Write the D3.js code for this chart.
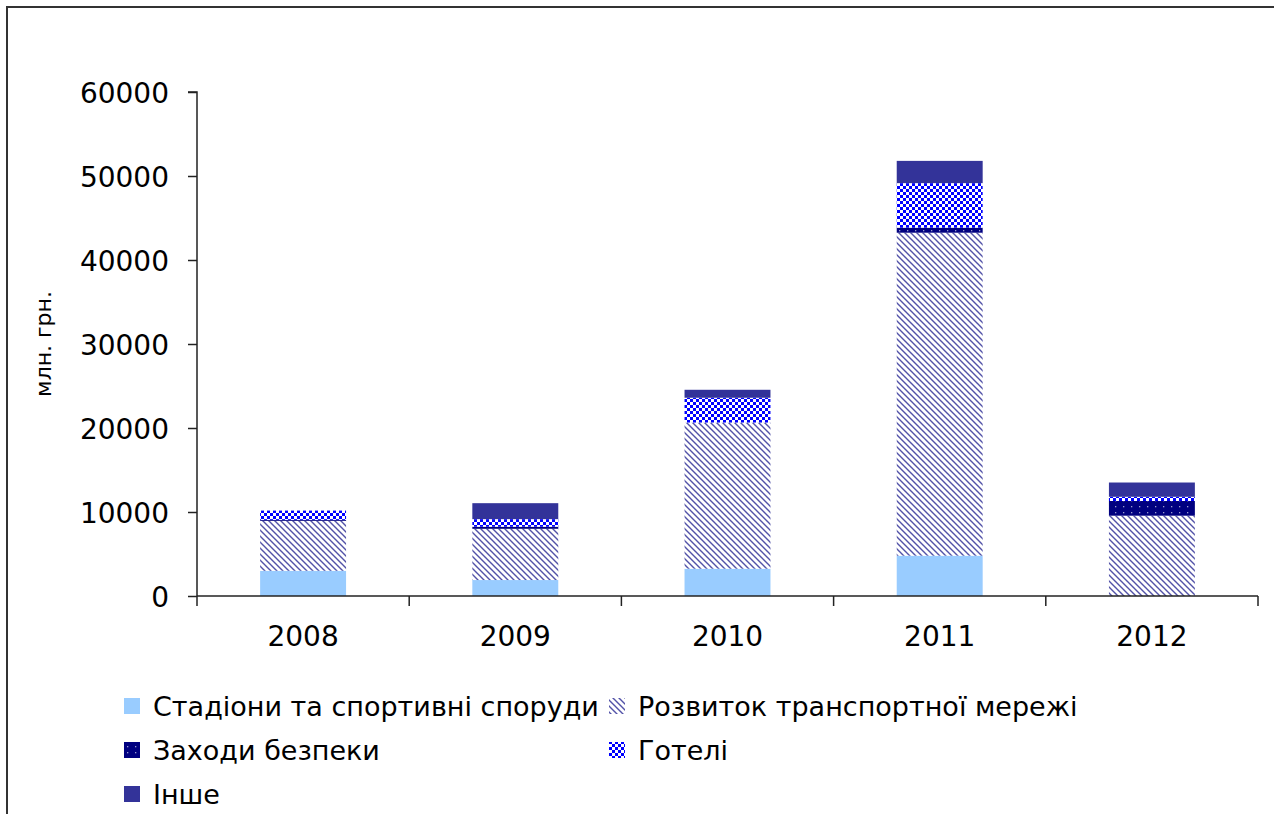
<!DOCTYPE html>
<html>
<head>
<meta charset="utf-8">
<script src="https://cdn.jsdelivr.net/npm/d3@7"></script>
<style>
  body { margin: 0; background: #fff; }
  text { font-family: "DejaVu Sans", Verdana, sans-serif; fill: #000; }
</style>
</head>
<body>
<div id="chart"></div>
<script>
// values in млн. грн.
const years = ["2008", "2009", "2010", "2011", "2012"];
const stadiums = [3000, 1900, 3250, 4800, 0];
const transport = [5950, 6100, 17400, 38450, 9560];
const security = [120, 250, 0, 600, 1750];
const hotels = [1100, 900, 2950, 5300, 500];
const other = [0, 1900, 950, 2650, 1700];
const yTicks = [0, 10000, 20000, 30000, 40000, 50000, 60000];

const seriesNames = ["Стадіони та спортивні споруди", "Розвиток транспортної мережі",
  "Заходи безпеки", "Готелі", "Інше"];
const seriesKeys = ["stadiums", "transport", "security", "hotels", "other"];
const fills = ["#99ccff", "url(#pTransport)", "url(#pSecurity)", "url(#pHotels)", "#333399"];

const W = 1274, H = 814;
const plot = {left: 197, right: 1258, top: 92, bottom: 596};

const rows = years.map((y, i) => ({
  year: y, stadiums: stadiums[i], transport: transport[i],
  security: security[i], hotels: hotels[i], other: other[i]
}));

const svg = d3.select("#chart").append("svg")
  .attr("width", W).attr("height", H);

// patterns
const defs = svg.append("defs");
const pT = defs.append("pattern").attr("id", "pTransport")
  .attr("patternUnits", "userSpaceOnUse").attr("width", 6).attr("height", 6);
pT.append("rect").attr("width", 6).attr("height", 6).attr("fill", "#fff");
pT.append("path").attr("d", "M-1,-1 L7,7 M-1,5 L1,7 M5,-1 L7,1")
  .attr("stroke", "#5252a8").attr("stroke-width", 1.4);

const pS = defs.append("pattern").attr("id", "pSecurity")
  .attr("patternUnits", "userSpaceOnUse").attr("width", 8).attr("height", 6);
pS.append("rect").attr("width", 8).attr("height", 6).attr("fill", "#000080");
pS.append("rect").attr("x", 3).attr("y", 2).attr("width", 1.3).attr("height", 1.3).attr("fill", "#9a9ad0");

const pH = defs.append("pattern").attr("id", "pHotels")
  .attr("patternUnits", "userSpaceOnUse").attr("width", 6).attr("height", 6);
pH.append("rect").attr("width", 6).attr("height", 6).attr("fill", "#0000ff");
pH.append("rect").attr("width", 3).attr("height", 3).attr("fill", "#ffffff");
pH.append("rect").attr("x", 3).attr("y", 3).attr("width", 3).attr("height", 3).attr("fill", "#ffffff");

// frame
svg.append("path").attr("d", "M7,830 V7 H1290")
  .attr("fill", "none").attr("stroke", "#333").attr("stroke-width", 2);

const x = d3.scaleBand().domain(years).range([plot.left, plot.right]).padding(0);
const y = d3.scaleLinear().domain([0, 60000]).range([plot.bottom, plot.top]);
const barW = x.bandwidth() * 0.405;

const stacked = d3.stack().keys(seriesKeys)(rows);

svg.selectAll(".layer")
  .data(stacked)
  .enter().append("g")
  .attr("class", "layer")
  .attr("fill", (d, i) => fills[i])
  .selectAll("rect")
  .data(d => d)
  .enter().append("rect")
  .attr("x", d => x(d.data.year) + (x.bandwidth() - barW) / 2)
  .attr("width", barW)
  .attr("y", d => y(d[1]))
  .attr("height", d => y(d[0]) - y(d[1]));

// y axis
const yAxis = svg.append("g")
  .attr("transform", "translate(" + plot.left + ",0)")
  .call(d3.axisLeft(y).tickValues(yTicks).tickSize(9).tickPadding(19).tickFormat(d3.format("d")));
yAxis.selectAll("text").style("font-size", "28px").attr("dy", "0.36em");
yAxis.selectAll("line, path").attr("stroke", "#222").attr("stroke-width", 1.5);
yAxis.select(".domain").attr("d", "M-9," + plot.top + "H0V" + plot.bottom);

// x axis
const xAxis = svg.append("g")
  .attr("transform", "translate(0," + plot.bottom + ")")
  .call(d3.axisBottom(x).tickSize(0).tickPadding(30));
xAxis.selectAll("text").style("font-size", "28px");
xAxis.select(".domain").attr("d", "M" + plot.left + ",0H" + plot.right)
  .attr("stroke", "#222").attr("stroke-width", 1.5);
const bounds = years.map(d => x(d)).concat([plot.right]);
xAxis.selectAll(".bound")
  .data(bounds)
  .enter().append("line")
  .attr("x1", d => d).attr("x2", d => d)
  .attr("y1", 0).attr("y2", 10)
  .attr("stroke", "#222").attr("stroke-width", 1.5);

// y axis label
svg.append("text")
  .attr("transform", "translate(51," + ((plot.top + plot.bottom) / 2) + ") rotate(-90)")
  .style("text-anchor", "middle")
  .style("font-size", "22px")
  .text("млн. грн.");

// legend
const legendPos = [[124, 706], [609, 706], [124, 750], [609, 750], [124, 794]];
const legend = svg.selectAll(".legend")
  .data(seriesNames)
  .enter().append("g")
  .attr("class", "legend")
  .attr("transform", (d, i) => "translate(" + legendPos[i][0] + "," + legendPos[i][1] + ")");
legend.append("rect")
  .attr("x", 0).attr("y", -8).attr("width", 16).attr("height", 16)
  .attr("fill", (d, i) => fills[i]);
legend.append("text")
  .attr("x", 29).attr("dy", "0.36em")
  .style("font-size", "27px")
  .text(d => d);
</script>
</body>
</html>
